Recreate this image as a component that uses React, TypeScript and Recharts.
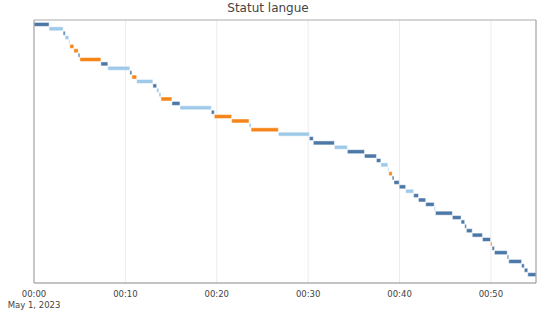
import React from 'react';
import { BarChart, Bar, XAxis, YAxis, CartesianGrid, Cell } from 'recharts';

// segment start / end, in minutes after 00:00 (May 1, 2023)
const starts = [
  0, 1.65, 3.19, 3.41, 3.81, 3.92, 4.36, 4.83, 5.02, 7.32,
  8.08, 10.49, 10.71, 11.23, 13.01, 13.42, 13.67, 13.89, 15.09, 15.97,
  19.4, 19.73, 21.63, 23.53, 23.75, 26.74, 30.13, 30.56, 32.87, 34.29,
  36.16, 37.47, 37.95, 38.72, 38.83, 39.19, 39.39, 39.96, 40.67, 41.54,
  42.07, 42.86, 43.79, 43.93, 45.78, 46.73, 47.13, 47.32, 47.95, 49.07,
  49.95, 50.12, 50.38, 51.78, 51.95, 53.35, 53.65, 54.03,
];
const ends = [
  1.65, 3.19, 3.41, 3.81, 3.92, 4.36, 4.83, 5.02, 7.32, 8.08,
  10.49, 10.71, 11.23, 13.01, 13.42, 13.67, 13.89, 15.09, 15.97, 19.4,
  19.73, 21.63, 23.53, 23.75, 26.74, 30.13, 30.56, 32.87, 34.29, 36.16,
  37.47, 37.95, 38.72, 38.83, 39.19, 39.39, 39.96, 40.67, 41.54, 42.07,
  42.86, 43.79, 43.93, 45.78, 46.73, 47.13, 47.32, 47.95, 49.07, 49.95,
  50.12, 50.38, 51.78, 51.95, 53.35, 53.65, 54.03, 54.93,
];
// f = dark blue, c = light blue, o = orange
const statuts = [
  'f', 'c', 'f', 'c', 'c', 'o', 'o', 'f', 'o', 'f',
  'c', 'f', 'o', 'c', 'f', 'c', 'c', 'o', 'f', 'c',
  'f', 'o', 'o', 'c', 'o', 'c', 'f', 'f', 'c', 'f',
  'f', 'f', 'c', 'c', 'o', 'f', 'f', 'f', 'c', 'f',
  'f', 'f', 'c', 'f', 'f', 'f', 'f', 'f', 'f', 'f',
  'o', 'f', 'f', 'f', 'f', 'f', 'f', 'f',
];

const xTicks = [0, 10, 20, 30, 40, 50];
const tickLabels = ['00:00', '00:10', '00:20', '00:30', '00:40', '00:50'];

const colors: Record<string, string> = { f: '#4c78a8', c: '#9ecae9', o: '#f58518' };

const data = starts.map((s, i) => ({ id: 'r' + i, range: [s, ends[i]], statut: statuts[i] }));

const font = '"DejaVu Sans", Verdana, sans-serif';
const domain: [number, number] = [0, 54.93];

const TimeTick = (props: any) => {
  const { x, payload, index } = props;
  // axis line sits at y = 283
  return (
    <g>
      <text x={x} y={296.5} textAnchor="middle" fontSize={8.5} fill="#444" fontFamily={font}>
        {tickLabels[index]}
      </text>
      {payload.value === 0 && (
        <text x={x} y={307.5} textAnchor="middle" fontSize={8.5} fill="#444" fontFamily={font}>
          May 1, 2023
        </text>
      )}
    </g>
  );
};

export default function App() {
  return (
    <div style={{ position: 'absolute', left: 0, top: 0, width: 551, height: 318, background: '#fff' }}>
      <div
        style={{
          position: 'absolute', left: 0, top: 1, width: 536, textAlign: 'center',
          fontFamily: font, fontSize: 12, color: '#444',
        }}
      >
        Statut langue
      </div>
      <BarChart
        width={551}
        height={318}
        data={data}
        layout="vertical"
        margin={{ top: 19, right: 14, bottom: 0, left: 33 }}
        barCategoryGap={0}
      >
        <CartesianGrid horizontal={false} stroke="#ececec" />
        <XAxis
          type="number"
          domain={domain}
          ticks={xTicks}
          allowDataOverflow
          height={35}
          tickLine={false}
          stroke="#888"
          tick={<TimeTick />}
          interval={0}
        />
        <XAxis
          xAxisId="top"
          orientation="top"
          type="number"
          domain={domain}
          allowDataOverflow
          height={1}
          tick={false}
          tickLine={false}
          stroke="#aaa"
        />
        <YAxis
          type="category"
          dataKey="id"
          width={1}
          tick={false}
          tickLine={false}
          stroke="#999"
          padding={{ top: 2.4, bottom: 6 }}
        />
        <YAxis
          yAxisId="right"
          orientation="right"
          type="category"
          dataKey="id"
          width={1}
          tick={false}
          tickLine={false}
          stroke="#999"
        />
        <Bar dataKey="range" barSize={4} stroke="#fff" strokeWidth={0.5} isAnimationActive={false}>
          {data.map((d) => (
            <Cell key={d.id} fill={colors[d.statut]} />
          ))}
        </Bar>
      </BarChart>
    </div>
  );
}
